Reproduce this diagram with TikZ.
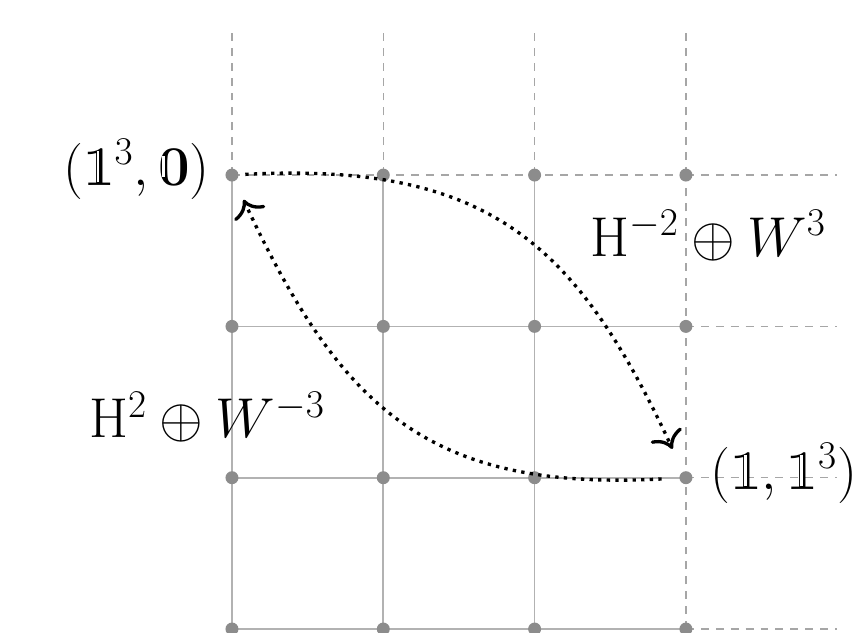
\RequirePackage{fix-cm}
\documentclass[tikz,border=0pt]{standalone}
\usepackage{amsmath}
\usepackage{xcolor}
\usepackage{tikz}
\usetikzlibrary{arrows.meta,positioning}
\DeclareMathSizes{32}{32}{22.4}{16}
% hollow-stem digits standing in for blackboard 1 and 0
\newcommand\bbone{\mathord{\ooalign{$\mathbf{1}$\cr\hidewidth\textcolor{white}{\rule[0.12ex]{0.045em}{1.3ex}}\kern0.03em\hidewidth\cr}}}
\newcommand\bbzero{\mathord{\ooalign{$\mathbf{0}$\cr\kern0.075em\textcolor{white}{\rule[0.35ex]{0.04em}{0.85ex}}\hfil\cr}}}

\begin{document}
\begin{tikzpicture}[
    x=3.03cm, y=3.03cm,
    dot/.style={circle, fill=black!45, inner sep=0pt, minimum size=2.6mm},
    gline/.style={black!30, line width=1pt},
    dline/.style={black!35, line width=0.8pt, dash pattern=on 4.5pt off 4pt},
    lbl/.style={font=\fontsize{32}{38}\selectfont, inner sep=0pt},
    move/.style={dash pattern=on 1.9pt off 3pt, line width=1.9pt,
                 -{To[scale=1.6]}, looseness=1.2}]
    \useasboundingbox (-1.533,-0.02) rectangle (4.19,4.157);
    % lattice
    \foreach \i in {0,1,2} {
      \draw[gline] (\i,0) -- (\i,3);
      \draw[gline] (0,\i) -- (3,\i);
    }
    \foreach \i in {0,1,2,3} {
      \draw[dline] (\i,3) -- (\i,3.95);
      \draw[dline] (3,\i) -- (4.0,\i);
    }
    \draw[dline] (0,3) -- (3,3);
    \draw[dline] (3,0) -- (3,3);
    \foreach \i in {0,1,2,3}
      \foreach \j in {0,1,2,3}
        \node[dot] (d\i\j) at (\i,\j) {};
    % labels
    \node[lbl, anchor=east] (src) at (-0.145,3.04) {$(\bbone^3,\bbzero)$};
    \node[lbl, anchor=west] (dst) at (3.16,1.03) {$(\bbone,\bbone^3)$};
    \node[lbl] (fwd) at (3.146,2.6) {$\mathrm{H}^{-2}\oplus W^{3}$};
    \node[lbl] (bwd) at (-0.165,1.4) {$\mathrm{H}^{2}\oplus W^{-3}$};
    % the two moves
    \draw[move, shorten <=1.3mm, shorten >=5mm] (d03) to[out=3, in=115] (d31);
    \draw[move, shorten <=3.5mm, shorten >=4.1mm] (d31) to[out=183, in=-65] (d03);
\end{tikzpicture}
\end{document}
